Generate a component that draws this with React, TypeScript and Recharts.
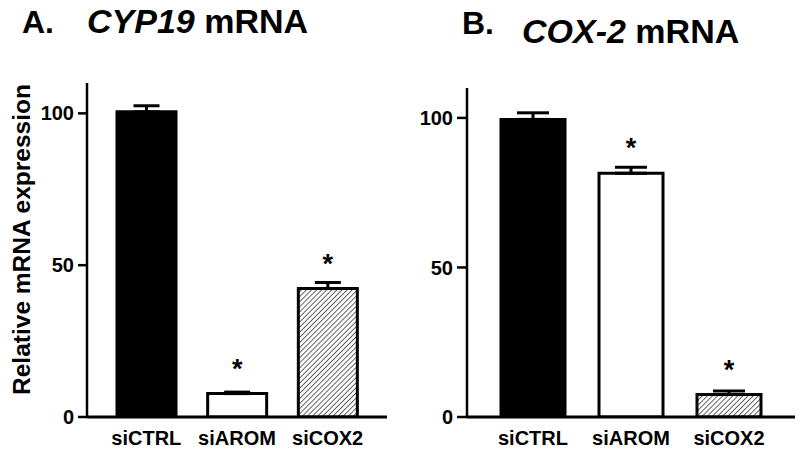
import React from 'react';
import { BarChart, Bar, XAxis, YAxis, ErrorBar, Cell, LabelList } from 'recharts';

const categories = ['siCTRL', 'siAROM', 'siCOX2'];
const cyp19Values = [100.5, 7.7, 42.3];
const cyp19Errors = [2.0, 0.5, 2.0];
const cox2Values = [99.5, 81.5, 7.5];
const cox2Errors = [2.2, 2.0, 1.2];
const significance = ['', '*', '*'];
const yTicks = [0, 50, 100];

const FONT = '"Liberation Sans", Arial, Helvetica, sans-serif';
const fills = ['#000000', '#ffffff', 'url(#hatch)'];

const buildData = (values: number[], errors: number[]) =>
  categories.map((name, i) => ({
    name,
    value: values[i],
    err: [0, errors[i]],
    sig: significance[i],
  }));

const cypData = buildData(cyp19Values, cyp19Errors);
const coxData = buildData(cox2Values, cox2Errors);

type PanelProps = {
  data: any[];
  left: number;
  yAxisWidth: number;
  top: number;
  right: number;
  pad: number;
  barSize: number;
  capHalf: number;
  tickSize: number;
};

const Panel = ({ data, left, yAxisWidth, top, right, pad, barSize, capHalf, tickSize }: PanelProps) => (
  <div style={{ position: 'absolute', left, top: 0 }}>
    <BarChart
      width={400}
      height={453}
      data={data}
      margin={{ top, right, bottom: 6, left: 0 }}
      barCategoryGap={0}
    >
      <defs>
        <pattern id="hatch" patternUnits="userSpaceOnUse" width="3.6" height="3.6" patternTransform="rotate(45)">
          <rect x="0" y="0" width="3.6" height="3.6" fill="#ffffff" />
          <line x1="0" y1="0" x2="0" y2="3.6" stroke="#000" strokeWidth="1.2" />
        </pattern>
      </defs>
      <XAxis
        dataKey="name"
        height={30}
        tickLine={false}
        tickSize={0}
        tickMargin={14}
        axisLine={{ stroke: '#000', strokeWidth: 3 }}
        padding={{ left: pad, right: pad }}
        tick={{ fill: '#000', fontSize: 20, fontWeight: 700, fontFamily: FONT }}
        interval={0}
      />
      <YAxis
        width={yAxisWidth}
        domain={[0, 110]}
        ticks={yTicks}
        allowDataOverflow
        tickSize={tickSize}
        tickMargin={4}
        axisLine={{ stroke: '#000', strokeWidth: 2.5 }}
        tickLine={{ stroke: '#000', strokeWidth: 2.5 }}
        tick={{ fill: '#000', fontSize: 20, fontWeight: 700, fontFamily: FONT }}
      />
      <Bar dataKey="value" barSize={barSize} isAnimationActive={false} strokeWidth={3} stroke="#000">
        {data.map((_, i) => (
          <Cell key={i} fill={fills[i]} stroke="#000" strokeWidth={3} />
        ))}
        <ErrorBar dataKey="err" width={capHalf} stroke="#000" strokeWidth={3} direction="y" />
        <LabelList
          dataKey="sig"
          position="top"
          offset={16}
          style={{ fill: '#000', fontSize: 27, fontWeight: 700, fontFamily: FONT }}
        />
      </Bar>
    </BarChart>
  </div>
);

export default function App() {
  return (
    <div style={{ position: 'absolute', left: 0, top: 0, width: 800, height: 453, background: '#fff', overflow: 'hidden' }}>
      <Panel data={cypData} left={0} yAxisWidth={87} top={83} right={13} pad={14} barSize={59} capHalf={13} tickSize={9} />
      <Panel data={coxData} left={400} yAxisWidth={67} top={88} right={5} pad={17} barSize={64} capHalf={16} tickSize={10} />
      <svg
        width={800}
        height={453}
        style={{ position: 'absolute', left: 0, top: 0, pointerEvents: 'none' }}
        fontFamily={FONT}
        fontWeight={700}
        fill="#000"
      >
        <text x={22} y={33} fontSize={32}>A.</text>
        <text x={87} y={33} fontSize={34}>
          <tspan fontStyle="italic">CYP19</tspan>
          <tspan> mRNA</tspan>
        </text>
        <text x={462} y={34} fontSize={32}>B.</text>
        <text x={522} y={43} fontSize={34}>
          <tspan fontStyle="italic">COX-2</tspan>
          <tspan> mRNA</tspan>
        </text>
        <text
          x={0}
          y={0}
          fontSize={24.5}
          textAnchor="middle"
          transform="translate(30, 239.5) rotate(-90)"
        >
          Relative mRNA expression
        </text>
      </svg>
    </div>
  );
}
